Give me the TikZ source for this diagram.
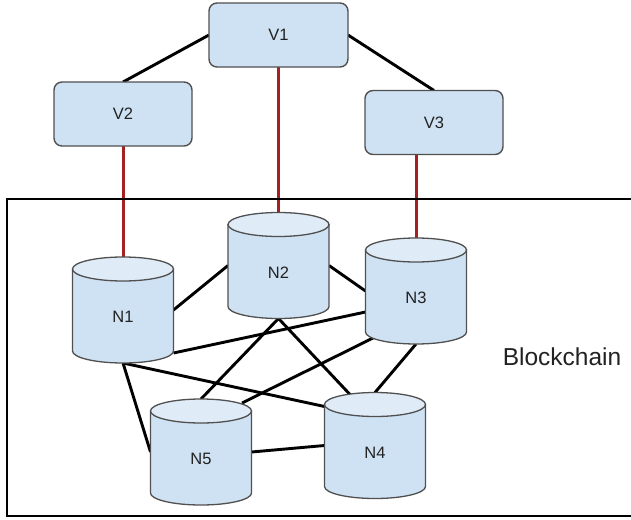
\documentclass[tikz,border=0pt]{standalone}
\usepackage{fontspec}
\setmainfont{Liberation Sans}
\usetikzlibrary{calc}
\definecolor{boxfill}{HTML}{CFE2F3}
\definecolor{topfill}{HTML}{DFEBF7}
\definecolor{boxline}{HTML}{505050}
\definecolor{redline}{HTML}{A52020}
\definecolor{txt}{HTML}{222222}
\pgfdeclarelayer{bg}
\pgfsetlayers{bg,main}
\tikzset{
  vbox/.style={draw=boxline, fill=boxfill, line width=1.4pt, rounded corners=8pt,
    minimum width=138pt, minimum height=64pt, inner sep=0pt, outer sep=0pt,
    text=txt, font=\fontsize{16.5}{19}\selectfont},
  cylbox/.style={minimum width=101pt, minimum height=106pt, inner sep=0pt, outer sep=0pt},
  cyllabel/.style={inner sep=0pt, text=txt, font=\fontsize{16.5}{19}\selectfont},
  cylbody/.style={draw=boxline, fill=boxfill, line width=1.3pt},
  cyltop/.style={draw=boxline, fill=topfill, line width=1.3pt},
  link/.style={line width=2.9pt, black},
  redlink/.style={line width=3pt, redline},
}
\newcommand\cylnode[4]{%
  \coordinate (#1-c) at (#2,#3);
  \filldraw[cylbody] ($(#1-c)+(-50.5pt,41pt)$) -- ($(#1-c)+(-50.5pt,-41pt)$)
    arc[start angle=180, end angle=360, x radius=50.5pt, y radius=12pt]
    -- ($(#1-c)+(50.5pt,41pt)$) -- cycle;
  \filldraw[cyltop] ($(#1-c)+(0,41pt)$) ellipse[x radius=50.5pt, y radius=12pt];
  \node[cylbox] (#1) at (#1-c) {};
  \node[cyllabel] (#1t) at ($(#1-c)+(0,-7pt)$) {#4};
}
\begin{document}
\begin{tikzpicture}[x=1pt, y=-1pt]
\clip (0,0) rectangle (631,519);
% Blockchain frame
\draw[line width=2.9pt] (7,199) rectangle (645,516);
\node[font=\fontsize{24.5}{28}\selectfont, text=txt, anchor=center] (bc) at (562,357) {Blockchain};

% validators
\node[vbox, minimum width=139pt] (V1) at (278.5,35) {V1};
\node[vbox] (V2) at (123,114) {V2};
\node[vbox] (V3) at (434,122.5) {V3};

% cylinders
\cylnode{N1}{123}{310}{N1}
\cylnode{N2}{278.5}{265.5}{N2}
\cylnode{N3}{416}{291}{N3}
\cylnode{N4}{375}{445.5}{N4}
\cylnode{N5}{201}{452}{N5}

\begin{pgfonlayer}{bg}
  \draw[link] (V1.west) -- (V2.north);
  \draw[link] (V1.east) -- (V3.north);
  \draw[redlink] (V2.south) -- (N1.north);
  \draw[redlink] (V1.south) -- (N2.north);
  \draw[redlink] (N3.north |- V3.south) -- (N3.north);

  \draw[link] (N1.east) -- (N2.west);
  \draw[link] ($(N1.south east)+(0,10pt)$) -- ($(N3.west)+(0,-21pt)$);
  \draw[link] (N1.south) -- ($(N4.north west)+(0,-14pt)$);
  \draw[link] (N1.south) -- (N5.west);
  \draw[link] (N2.east) -- (N3.west);
  \draw[link] (N2.south) -- (N5.north);
  \draw[link] (N2.south) -- ($(N4.north)+(-25pt,-2pt)$);
  \draw[link] ($(N3.south)+(-43pt,6pt)$) -- ($(N5.north)+(41pt,-4pt)$);
  \draw[link] (N3.south) -- (N4.north);
  \draw[link] (N5.east) -- (N4.west);
\end{pgfonlayer}
\end{tikzpicture}
\end{document}
